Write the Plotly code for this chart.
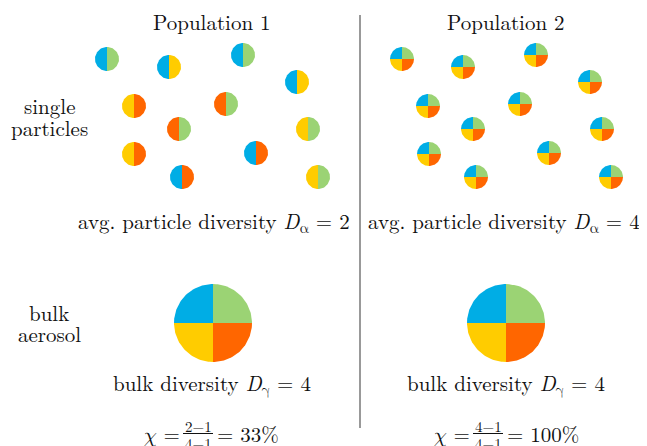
import numpy as np
import plotly.graph_objects as go

# ---- data ----
COLORS = {"blue": "#00ADE5", "green": "#9BD374", "yellow": "#FFCC00", "orange": "#FF6600"}

pop1_x = [107, 169, 243, 297, 134, 226, 179, 308, 134, 256, 182, 318]
pop1_y = [59, 67, 55, 82, 106, 104, 129, 129, 154, 153, 177, 177]
pop1_left = ["blue", "blue", "blue", "blue", "yellow", "orange", "orange", "yellow", "yellow", "blue", "blue", "yellow"]
pop1_right = ["green", "yellow", "green", "yellow", "orange", "green", "green", "green", "orange", "orange", "orange", "green"]

pop2_x = [402, 463, 536, 590, 428, 520, 473, 602, 429, 549, 476, 611]
pop2_y = [59, 67, 55, 82, 106, 104, 129, 129, 154, 153, 177, 177]
# quarter order: top-left, top-right, bottom-right, bottom-left
quarter_colors = ["blue", "green", "orange", "yellow"]

bulk_x = [213, 506]
bulk_y = [323, 323]

particle_r = 12
bulk_r = 39

titles = ["Population 1", "Population 2"]
d_alpha = [2, 4]
d_gamma = [4, 4]
chi_num = ["2−1", "4−1"]
chi_den = ["4−1", "4−1"]
chi_pct = ["33%", "100%"]

W, H = 647, 446
OFF = 8  # default page body margin
FONT = "'Latin Modern Roman', 'Latin Modern Math', 'Liberation Serif', serif"

fig = go.Figure()


def wedge(cx, cy, r, a0, a1, color):
    t = np.radians(np.linspace(a0, a1, 40))
    xs = np.concatenate([[cx], cx + r * np.cos(t), [cx]])
    ys = np.concatenate([[cy], cy - r * np.sin(t), [cy]])
    fig.add_trace(go.Scatter(x=xs, y=ys, mode="lines", fill="toself",
                             fillcolor=COLORS[color], line=dict(width=0, color=COLORS[color]),
                             hoverinfo="skip", showlegend=False))


for x, y, lc, rc in zip(pop1_x, pop1_y, pop1_left, pop1_right):
    wedge(x, y, particle_r, 90, 270, lc)
    wedge(x, y, particle_r, -90, 90, rc)

quarter_angles = [(90, 180), (0, 90), (270, 360), (180, 270)]

for x, y in zip(pop2_x, pop2_y):
    for (a0, a1), c in zip(quarter_angles, quarter_colors):
        wedge(x, y, particle_r, a0, a1, c)

for x, y in zip(bulk_x, bulk_y):
    for (a0, a1), c in zip(quarter_angles, quarter_colors):
        wedge(x, y, bulk_r, a0, a1, c)

ann = []


def txt(x, y, s, size=21, xanchor="center"):
    ann.append(dict(x=x, y=y, xref="x", yref="y", text=s, showarrow=False,
                    font=dict(family=FONT, size=size, color="#111"),
                    xanchor=xanchor, yanchor="middle"))


col_cx = [212, 506]
for i, cx in enumerate(col_cx):
    txt(cx, 21, titles[i])
    txt(cx + (2 if i == 0 else -2), 221, f"avg. particle diversity <i>D</i><sub>α</sub> = {d_alpha[i]}")
    txt(cx, 383, f"bulk diversity <i>D</i><sub>γ</sub> = {d_gamma[i]}")

txt(49, 105, "single")
txt(49, 127, "particles")
txt(49, 312, "bulk")
txt(49, 333, "aerosol")

frac_cx = [198, 488]
for i, fx in enumerate(frac_cx):
    txt(fx - 16, 433, "<i>χ</i> =", xanchor="right")
    txt(fx, 425, chi_num[i], size=15)
    txt(fx, 442, chi_den[i], size=15)
    txt(fx + 17, 433, "= " + chi_pct[i], xanchor="left")

shapes = [dict(type="line", xref="x", yref="y", x0=360, x1=360, y0=15, y1=428,
               line=dict(color="#999999", width=2))]
for fx in frac_cx:
    shapes.append(dict(type="line", xref="x", yref="y", x0=fx - 15, x1=fx + 15, y0=433.5, y1=433.5,
                       line=dict(color="#111", width=1)))

fig.update_layout(
    width=W - OFF, height=H - OFF, margin=dict(l=0, r=0, t=0, b=0),
    paper_bgcolor="white", plot_bgcolor="white",
    xaxis=dict(range=[OFF, W], visible=False, fixedrange=True),
    yaxis=dict(range=[H, OFF], visible=False, fixedrange=True),
    annotations=ann, shapes=shapes, showlegend=False,
    font=dict(family=FONT),
)

fig.write_html("out.html")
